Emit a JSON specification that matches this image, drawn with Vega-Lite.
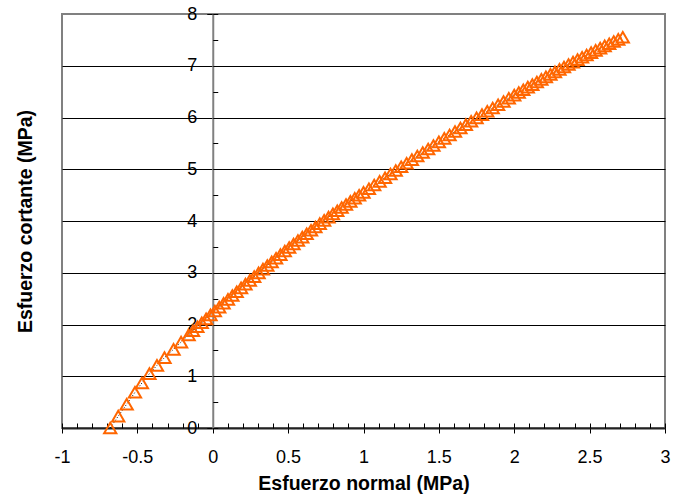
{
  "$schema": "https://vega.github.io/schema/vega-lite/v6.json",
  "width": 603,
  "height": 414,
  "autosize": {"type": "none"},
  "padding": {"left": 62, "top": 14, "right": 8, "bottom": 69},
  "background": "white",
  "config": {
    "view": {"stroke": "#808080", "strokeWidth": 2},
    "font": "Liberation Sans",
    "axis": {"labelFont": "Liberation Sans", "titleFont": "Liberation Sans"}
  },
  "data": {
    "values": [
      {"normal": -0.68, "cortante": 0},
      {"normal": -0.627, "cortante": 0.23},
      {"normal": -0.571, "cortante": 0.46},
      {"normal": -0.516, "cortante": 0.69},
      {"normal": -0.47, "cortante": 0.87},
      {"normal": -0.42, "cortante": 1.05},
      {"normal": -0.37, "cortante": 1.21},
      {"normal": -0.32, "cortante": 1.36},
      {"normal": -0.26, "cortante": 1.52},
      {"normal": -0.21, "cortante": 1.66},
      {"normal": -0.16, "cortante": 1.8},
      {"normal": -0.131, "cortante": 1.878},
      {"normal": -0.102, "cortante": 1.956},
      {"normal": -0.073, "cortante": 2.033},
      {"normal": -0.044, "cortante": 2.109},
      {"normal": -0.015, "cortante": 2.185},
      {"normal": 0.014, "cortante": 2.26},
      {"normal": 0.043, "cortante": 2.336},
      {"normal": 0.072, "cortante": 2.41},
      {"normal": 0.101, "cortante": 2.485},
      {"normal": 0.13, "cortante": 2.559},
      {"normal": 0.159, "cortante": 2.633},
      {"normal": 0.188, "cortante": 2.707},
      {"normal": 0.217, "cortante": 2.78},
      {"normal": 0.246, "cortante": 2.853},
      {"normal": 0.275, "cortante": 2.926},
      {"normal": 0.304, "cortante": 2.998},
      {"normal": 0.333, "cortante": 3.07},
      {"normal": 0.362, "cortante": 3.141},
      {"normal": 0.391, "cortante": 3.211},
      {"normal": 0.42, "cortante": 3.281},
      {"normal": 0.449, "cortante": 3.351},
      {"normal": 0.478, "cortante": 3.42},
      {"normal": 0.507, "cortante": 3.488},
      {"normal": 0.536, "cortante": 3.556},
      {"normal": 0.565, "cortante": 3.623},
      {"normal": 0.594, "cortante": 3.689},
      {"normal": 0.623, "cortante": 3.755},
      {"normal": 0.652, "cortante": 3.82},
      {"normal": 0.681, "cortante": 3.885},
      {"normal": 0.71, "cortante": 3.949},
      {"normal": 0.739, "cortante": 4.012},
      {"normal": 0.768, "cortante": 4.075},
      {"normal": 0.797, "cortante": 4.137},
      {"normal": 0.826, "cortante": 4.198},
      {"normal": 0.855, "cortante": 4.26},
      {"normal": 0.884, "cortante": 4.32},
      {"normal": 0.913, "cortante": 4.38},
      {"normal": 0.942, "cortante": 4.44},
      {"normal": 0.971, "cortante": 4.498},
      {"normal": 1.0, "cortante": 4.553},
      {"normal": 1.036, "cortante": 4.624},
      {"normal": 1.071, "cortante": 4.695},
      {"normal": 1.107, "cortante": 4.766},
      {"normal": 1.143, "cortante": 4.837},
      {"normal": 1.179, "cortante": 4.907},
      {"normal": 1.214, "cortante": 4.977},
      {"normal": 1.25, "cortante": 5.047},
      {"normal": 1.286, "cortante": 5.116},
      {"normal": 1.321, "cortante": 5.186},
      {"normal": 1.357, "cortante": 5.255},
      {"normal": 1.393, "cortante": 5.323},
      {"normal": 1.429, "cortante": 5.392},
      {"normal": 1.464, "cortante": 5.46},
      {"normal": 1.5, "cortante": 5.528},
      {"normal": 1.536, "cortante": 5.596},
      {"normal": 1.571, "cortante": 5.663},
      {"normal": 1.607, "cortante": 5.729},
      {"normal": 1.643, "cortante": 5.796},
      {"normal": 1.679, "cortante": 5.862},
      {"normal": 1.714, "cortante": 5.927},
      {"normal": 1.75, "cortante": 5.992},
      {"normal": 1.786, "cortante": 6.056},
      {"normal": 1.821, "cortante": 6.12},
      {"normal": 1.857, "cortante": 6.184},
      {"normal": 1.893, "cortante": 6.247},
      {"normal": 1.929, "cortante": 6.309},
      {"normal": 1.964, "cortante": 6.371},
      {"normal": 2.0, "cortante": 6.433},
      {"normal": 2.03, "cortante": 6.484},
      {"normal": 2.06, "cortante": 6.535},
      {"normal": 2.09, "cortante": 6.586},
      {"normal": 2.12, "cortante": 6.636},
      {"normal": 2.15, "cortante": 6.686},
      {"normal": 2.18, "cortante": 6.736},
      {"normal": 2.21, "cortante": 6.785},
      {"normal": 2.24, "cortante": 6.834},
      {"normal": 2.27, "cortante": 6.882},
      {"normal": 2.3, "cortante": 6.93},
      {"normal": 2.33, "cortante": 6.977},
      {"normal": 2.36, "cortante": 7.025},
      {"normal": 2.39, "cortante": 7.071},
      {"normal": 2.42, "cortante": 7.118},
      {"normal": 2.45, "cortante": 7.164},
      {"normal": 2.48, "cortante": 7.209},
      {"normal": 2.51, "cortante": 7.254},
      {"normal": 2.54, "cortante": 7.298},
      {"normal": 2.57, "cortante": 7.341},
      {"normal": 2.6, "cortante": 7.384},
      {"normal": 2.63, "cortante": 7.426},
      {"normal": 2.66, "cortante": 7.468},
      {"normal": 2.69, "cortante": 7.509},
      {"normal": 2.72, "cortante": 7.55}
    ]
  },
  "resolve": {"axis": {"x": "independent", "y": "independent"}},
  "layer": [
    {
      "mark": {"type": "line", "color": "black", "strokeWidth": 1, "strokeDash": [1, 2]},
      "encoding": {
        "x": {
          "field": "normal", "type": "quantitative",
          "scale": {"domain": [-1, 3], "nice": false, "zero": false},
          "axis": {
            "orient": "bottom",
            "values": [-1, -0.5, 0, 0.5, 1, 1.5, 2, 2.5, 3],
            "format": "~g",
            "labelExpr": "replace(datum.label, '\u2212', '-')",
            "title": "Esfuerzo normal (MPa)",
            "titleFontSize": 19.5, "titleFontWeight": "bold", "titleColor": "black",
            "titleY": 46.5, "titleBaseline": "top",
            "labelFontSize": 18, "labelColor": "black", "labelPadding": 15.5,
            "labelFlush": false, "labelOverlap": false,
            "tickSize": 5, "tickColor": "black", "tickWidth": 1,
            "domainColor": "#222222", "domainWidth": 2,
            "grid": false
          }
        },
        "y": {
          "field": "cortante", "type": "quantitative",
          "scale": {"domain": [0, 8], "nice": false},
          "axis": {
            "orient": "left",
            "offset": -150.75,
            "values": [0, 1, 2, 3, 4, 5, 6, 7, 8],
            "format": "~g",
            "title": "Esfuerzo cortante (MPa)",
            "titleFontSize": 19.5, "titleFontWeight": "bold", "titleColor": "black",
            "titleX": -181.75, "titleBaseline": "alphabetic",
            "labelFontSize": 18, "labelColor": "black", "labelPadding": 10,
            "labelFlush": false, "labelOverlap": false,
            "tickSize": 6, "tickColor": "black", "tickWidth": 1,
            "domainColor": "#808080", "domainWidth": 2,
            "grid": true,
            "gridColor": {"condition": {"test": "datum.value === 8", "value": "#808080"}, "value": "#000000"},
            "gridWidth": 1
          }
        }
      }
    },
    {
      "mark": {"type": "point", "shape": "triangle-up", "filled": false, "stroke": "#FF6600", "strokeWidth": 2, "size": 150, "opacity": 1},
      "encoding": {
        "x": {
          "field": "normal", "type": "quantitative",
          "scale": {"domain": [-1, 3], "nice": false, "zero": false},
          "axis": {
            "orient": "bottom",
            "values": [-1, -0.9, -0.8, -0.7, -0.6, -0.5, -0.4, -0.3, -0.2, -0.1, 0, 0.1, 0.2, 0.3, 0.4, 0.5, 0.6, 0.7, 0.8, 0.9, 1, 1.1, 1.2, 1.3, 1.4, 1.5, 1.6, 1.7, 1.8, 1.9, 2, 2.1, 2.2, 2.3, 2.4, 2.5, 2.6, 2.7, 2.8, 2.9, 3],
            "tickSize": -5, "tickColor": "black", "tickWidth": 1,
            "labels": false, "domain": false, "grid": false, "title": null
          }
        },
        "y": {
          "field": "cortante", "type": "quantitative",
          "scale": {"domain": [0, 8], "nice": false},
          "axis": {
            "orient": "left",
            "offset": -150.75,
            "values": [0, 0.5, 1, 1.5, 2, 2.5, 3, 3.5, 4, 4.5, 5, 5.5, 6, 6.5, 7, 7.5, 8],
            "tickSize": -5, "tickColor": "black", "tickWidth": 1,
            "labels": false, "domain": false, "grid": false, "title": null
          }
        }
      }
    }
  ]
}
